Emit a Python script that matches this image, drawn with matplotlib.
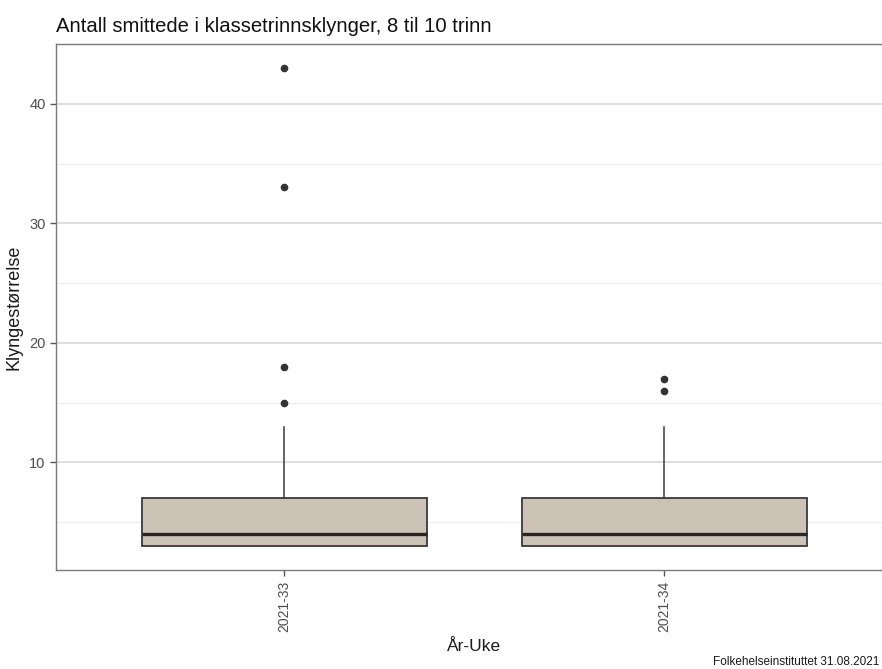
import matplotlib
matplotlib.use("Agg")
import matplotlib.pyplot as plt
from matplotlib.ticker import MultipleLocator

plt.rcParams['font.family'] = ['Liberation Sans', 'DejaVu Sans']

# Box statistics per week
weeks = ["2021-33", "2021-34"]
q1 = [3, 3]
median = [4, 4]
q3 = [7, 7]
whisker_low = [3, 3]
whisker_high = [13, 13]
outliers = [[15, 18, 33, 43], [16, 17]]

title = "Antall smittede i klassetrinnsklynger, 8 til 10 trinn"
ylabel = "Klyngestørrelse"
xlabel = "År-Uke"
caption = "Folkehelseinstituttet 31.08.2021"

W, H = 882, 669
fig = plt.figure(figsize=(W / 100, H / 100), dpi=100)
left, right, top, bottom = 56, 892, 44, 570
ax = fig.add_axes([left / W, 1 - bottom / H, (right - left) / W, (bottom - top) / H])

stats = []
for i, wk in enumerate(weeks):
    stats.append(dict(label=wk, q1=q1[i], med=median[i], q3=q3[i],
                      whislo=whisker_low[i], whishi=whisker_high[i],
                      fliers=outliers[i]))

positions = list(range(1, len(weeks) + 1))
ax.bxp(stats, positions=positions, widths=0.75, patch_artist=True,
       showcaps=False,
       boxprops=dict(facecolor="#cdc2b6", edgecolor="#3a3a3a", linewidth=1.3),
       medianprops=dict(color="#262626", linewidth=2.4, solid_capstyle="butt"),
       whiskerprops=dict(color="#3a3a3a", linewidth=1.1),
       flierprops=dict(marker="o", markerfacecolor="#333333", markeredgecolor="#333333",
                       markersize=4.5, linestyle="none"),
       zorder=3)

ax.set_xlim(0.4, len(weeks) + 0.6)
ax.set_ylim(1, 45)
ax.yaxis.set_major_locator(MultipleLocator(10))
ax.yaxis.set_minor_locator(MultipleLocator(5))
ax.set_xticks(positions)
ax.set_xticklabels(weeks, rotation=90, fontsize=10, color="#4d4d4d")
ax.tick_params(axis="y", which="major", labelsize=10.5, labelcolor="#4d4d4d",
               color="#555555", length=4, width=1)
ax.tick_params(axis="y", which="minor", length=0)
ax.tick_params(axis="x", color="#555555", length=4, width=1)

ax.grid(True, axis="y", which="major", color="#d6d6d6", linewidth=1.1, zorder=0)
ax.grid(True, axis="y", which="minor", color="#ececec", linewidth=0.8, zorder=0)
ax.set_axisbelow(True)
for s in ax.spines.values():
    s.set_color("#7a7a7a")
    s.set_linewidth(1.0)

ax.set_ylabel(ylabel, fontsize=13, color="#1a1a1a", labelpad=5)
ax.set_xlabel(xlabel, fontsize=12.5, color="#1a1a1a", labelpad=5)

fig.text(left / W, 1 - 32 / H, title, fontsize=14.6, color="#111111", ha="left", va="baseline")
fig.text(879 / W, 1 - 665 / H, caption, fontsize=8.5, color="#1a1a1a",
         ha="right", va="baseline")

fig.savefig("out.png", dpi=100, facecolor="white")
